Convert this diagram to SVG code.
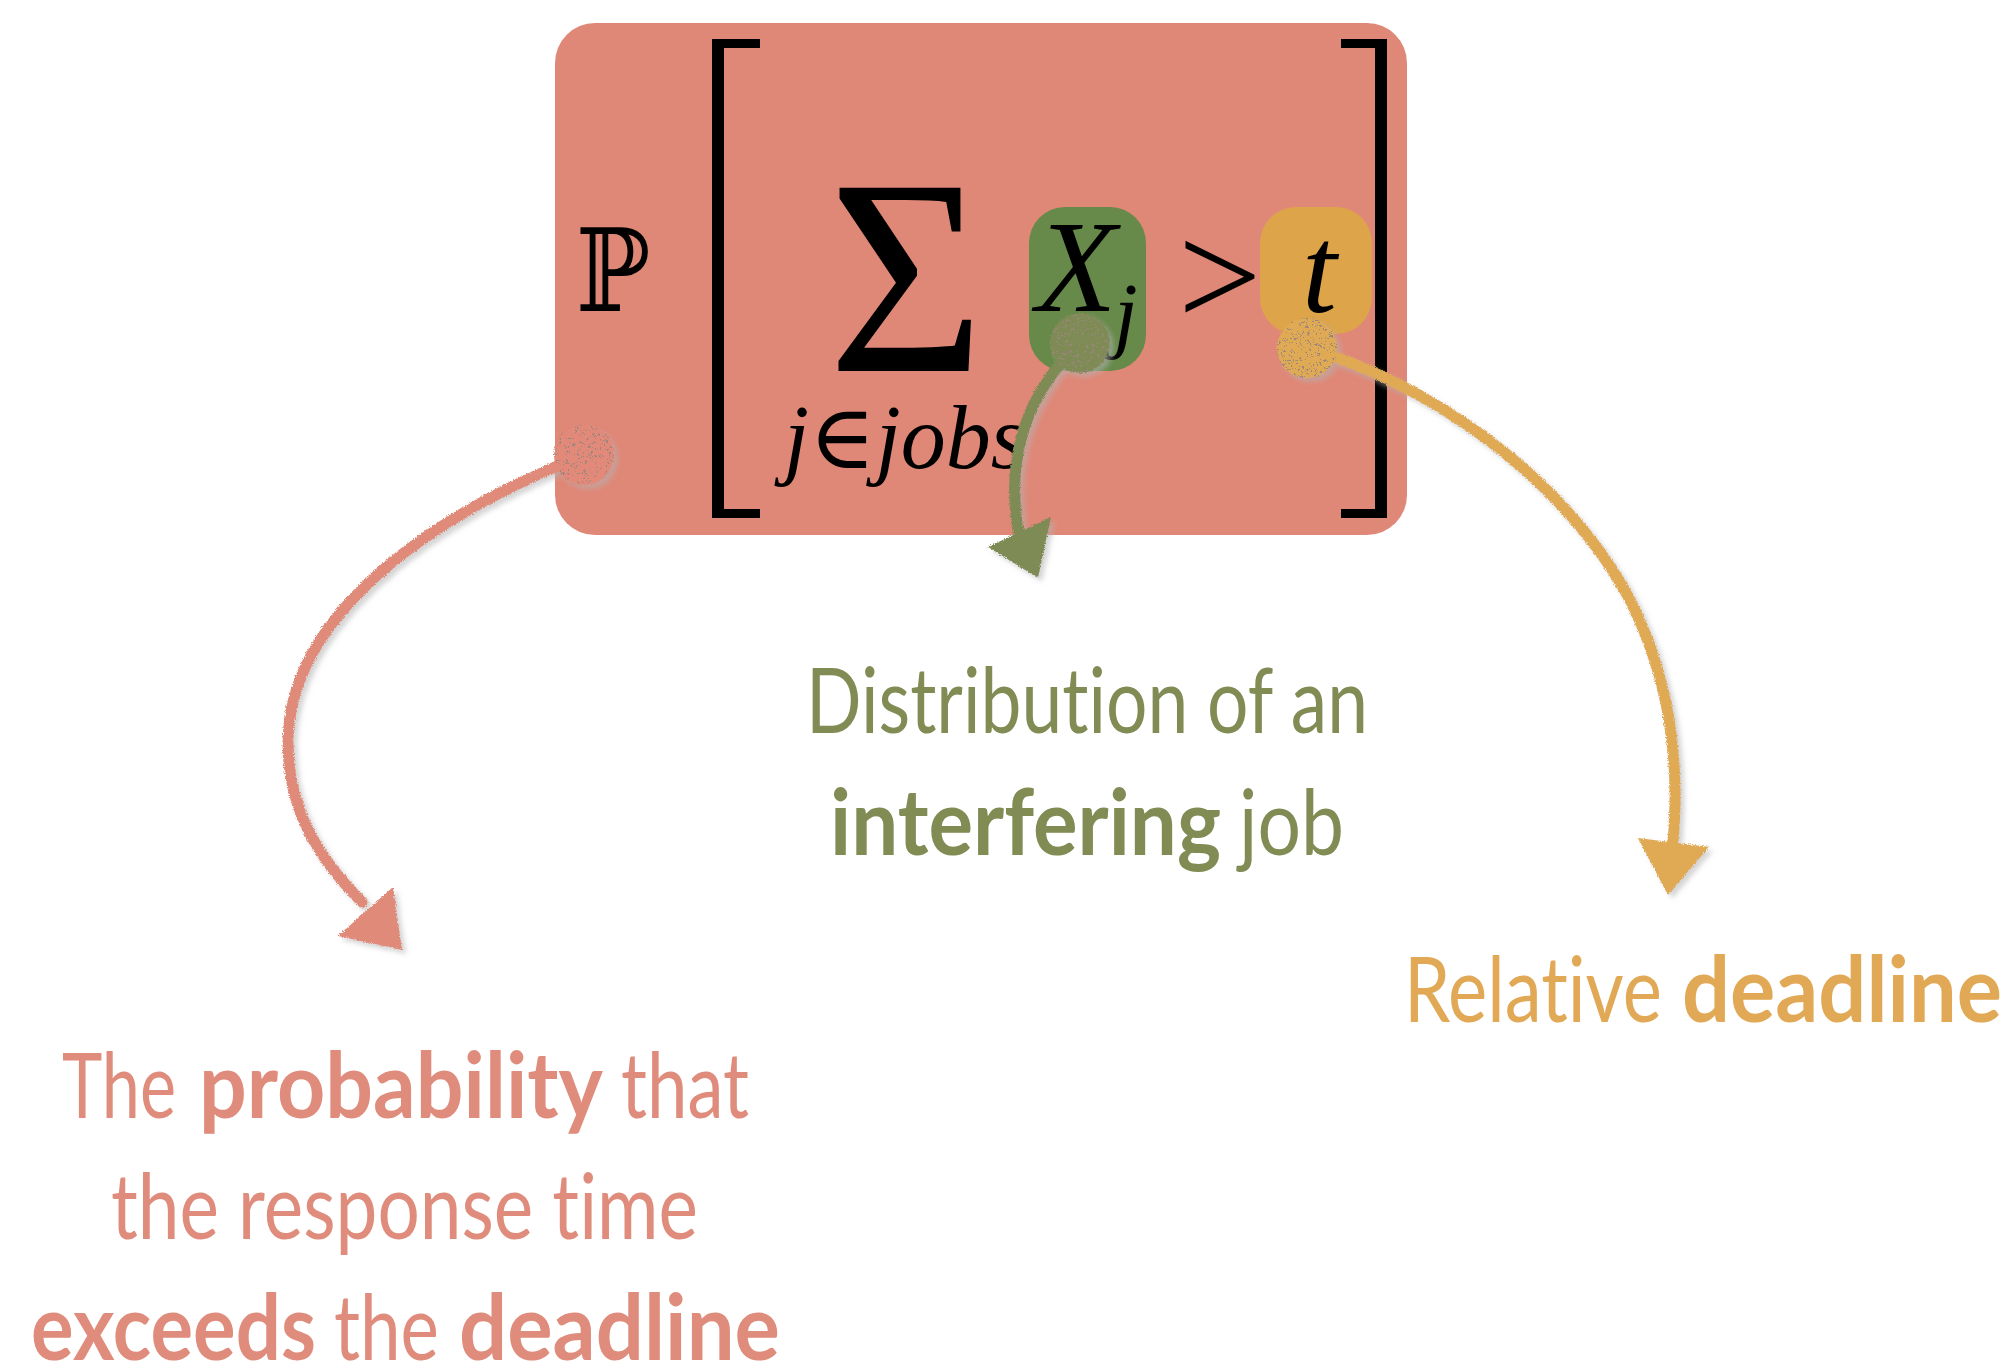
<svg xmlns="http://www.w3.org/2000/svg" width="2015" height="1368" viewBox="0 0 2015 1368">
  <style>
    .math { font-family: "Liberation Serif", "DejaVu Serif", serif; fill: #000; }
    .it { font-style: italic; }
    .lbl { font-family: Lato, "Liberation Sans", "DejaVu Sans", sans-serif; font-weight: 400; font-size: 91px; font-variant-ligatures: none; font-feature-settings: "liga" 0, "clig" 0; }
    .b { font-weight: 700; }
    .salmon { fill: #E08C7C; }
    .olive { fill: #818B54; }
    .gold { fill: #E1A955; }
    .wire { fill: none; stroke-width: 11; stroke-linecap: round; }
  </style>
  <defs>
    <!-- chalky edge plus a soft grey drop shadow for the hand-drawn connectors -->
    <filter id="chalk" x="-20%" y="-20%" width="140%" height="140%">
      <feTurbulence type="fractalNoise" baseFrequency="0.9" numOctaves="2" seed="3" result="noise"/>
      <feDisplacementMap in="SourceGraphic" in2="noise" scale="4" xChannelSelector="R" yChannelSelector="G" result="rough"/>
      <feGaussianBlur in="rough" stdDeviation="2.5" result="blur"/>
      <feOffset in="blur" dx="4" dy="4" result="off"/>
      <feColorMatrix in="off" type="matrix" values="0 0 0 0 0.45  0 0 0 0 0.45  0 0 0 0 0.45  0 0 0 0.55 0" result="shadow"/>
      <feMerge>
        <feMergeNode in="shadow"/>
        <feMergeNode in="rough"/>
      </feMerge>
    </filter>
    <!-- sparse dark specks sprinkled over the connector end dots -->
    <filter id="speckle" x="-10%" y="-10%" width="120%" height="120%">
      <feTurbulence type="fractalNoise" baseFrequency="0.45" numOctaves="2" seed="11" result="n"/>
      <feColorMatrix in="n" type="matrix" values="0 0 0 0 0.32  0 0 0 0 0.24  0 0 0 0 0.2  -22 0 0 0 8.2" result="specks"/>
      <feComposite in="specks" in2="SourceGraphic" operator="in" result="sp"/>
      <feMerge>
        <feMergeNode in="SourceGraphic"/>
        <feMergeNode in="sp"/>
      </feMerge>
    </filter>
  </defs>

  <rect width="2015" height="1368" fill="#fff"/>

  <!-- formula box: P[ sum_{j in jobs} X_j > t ] -->
  <g id="formula">
    <rect x="555" y="23" width="852" height="512" rx="40" fill="#E08877"/>
    <text class="math" transform="translate(576,311) scale(0.86,1)" font-family="'DejaVu Sans', sans-serif" font-size="115">ℙ</text>
    <!-- left bracket -->
    <path d="M712,39 H760 V48 H724 V509 H760 V518 H712 Z" fill="#000"/>
    <!-- right bracket -->
    <path d="M1387,39 H1341 V48 H1375 V509 H1341 V518 H1387 Z" fill="#000"/>
    <text class="math" transform="translate(828,371) scale(0.96,1)" font-size="280">Σ</text>
    <text class="math it" x="784" y="468" font-size="90">j∈jobs</text>
  </g>

  <g id="term-x">
    <rect x="1029" y="207" width="117" height="164" rx="36" fill="#678A4A"/>
    <text class="math it" x="1036" y="311" font-size="132">X</text>
    <text class="math it" x="1114" y="342" font-size="85">j</text>
  </g>

  <text id="gt" class="math" x="1178" y="326" font-size="148">&gt;</text>

  <g id="term-t">
    <rect x="1260" y="207" width="112" height="127" rx="36" fill="#DDA44A"/>
    <text class="math it" x="1302" y="312" font-size="125">t</text>
  </g>

  <!-- connectors from the formula terms to their explanations -->
  <g id="connectors" filter="url(#chalk)">
    <path class="wire" stroke="#E08A7A" d="M584,455 C420,520 290,620 288,740 C287,810 320,860 362,902"/>
    <path d="M393,887 L338,936 L402,950 Z" fill="#E08A7A"/>
    <circle cx="584" cy="455" r="30" fill="#E2897A" filter="url(#speckle)"/>

    <path class="wire" stroke="#7F8B55" d="M1080,343 C1030,390 1005,450 1018,530"/>
    <path d="M1051,517 L988,547 L1038,578 Z" fill="#7F8B55"/>
    <circle cx="1080" cy="343" r="30" fill="#7F8B55" filter="url(#speckle)"/>

    <path class="wire" stroke="#E0A952" d="M1307,348 C1420,380 1560,470 1630,600 C1670,680 1680,760 1673,842"/>
    <path d="M1638,838 L1709,847 L1668,895 Z" fill="#E0A952"/>
    <circle cx="1307" cy="348" r="30" fill="#E0A952" filter="url(#speckle)"/>
  </g>

  <g id="label-probability" class="salmon">
    <text class="lbl salmon" x="62" y="1118" textLength="114" lengthAdjust="spacingAndGlyphs">The</text>
    <text class="lbl salmon b" x="199" y="1118" textLength="404" lengthAdjust="spacingAndGlyphs">probability</text>
    <text class="lbl salmon" x="621" y="1118" textLength="128" lengthAdjust="spacingAndGlyphs">that</text>
    <text class="lbl salmon" x="111" y="1239" textLength="587" lengthAdjust="spacingAndGlyphs">the response time</text>
    <text class="lbl salmon b" x="31" y="1360" textLength="285" lengthAdjust="spacingAndGlyphs">exceeds</text>
    <text class="lbl salmon" x="334" y="1360" textLength="105" lengthAdjust="spacingAndGlyphs">the</text>
    <text class="lbl salmon b" x="459" y="1360" textLength="321" lengthAdjust="spacingAndGlyphs">deadline</text>
  </g>

  <g id="label-distribution">
    <text class="lbl olive" x="806" y="733" textLength="562" lengthAdjust="spacingAndGlyphs">Distribution of an</text>
    <text class="lbl olive b" x="830" y="855" textLength="391" lengthAdjust="spacingAndGlyphs">interfering</text>
    <text class="lbl olive" x="1239" y="855" textLength="105" lengthAdjust="spacingAndGlyphs">job</text>
  </g>

  <g id="label-deadline">
    <text class="lbl gold" x="1404" y="1022" textLength="258" lengthAdjust="spacingAndGlyphs">Relative</text>
    <text class="lbl gold b" x="1682" y="1022" textLength="320" lengthAdjust="spacingAndGlyphs">deadline</text>
  </g>
</svg>
